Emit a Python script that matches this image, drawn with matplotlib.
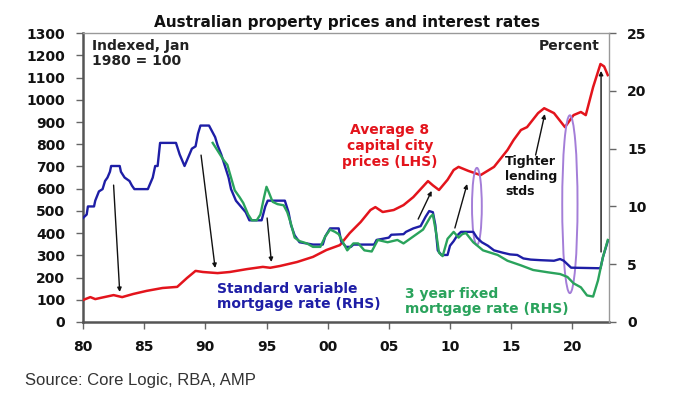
import matplotlib
matplotlib.use("Agg")
import matplotlib.pyplot as plt
from matplotlib.patches import Ellipse

# ---------------- data ----------------
price_years = [1980.0, 1980.6, 1981.0, 1981.4, 1982.5, 1983.2, 1984.1, 1985.2, 1986.5, 1987.7,
               1988.5, 1989.2, 1989.8, 1991.0, 1992.0, 1993.4, 1994.7, 1995.3, 1996.1, 1997.5,
               1998.8, 1999.9, 2001.0, 2001.8, 2002.7, 2003.5, 2003.9, 2004.5, 2005.4, 2006.2,
               2007.0, 2007.8, 2008.2, 2008.6, 2009.1, 2009.8, 2010.3, 2010.7, 2011.5, 2012.5,
               2013.6, 2014.7, 2015.2, 2015.8, 2016.3, 2017.2, 2017.7, 2018.5, 2019.4, 2020.1,
               2020.7, 2021.1, 2021.7, 2022.3, 2022.6, 2022.9]
price_index = [99, 112, 103, 108, 121, 112, 126, 140, 153, 158,
               198, 230, 225, 220, 225, 238, 248, 244, 252, 270,
               293, 324, 346, 400, 450, 504, 517, 495, 504, 526,
               562, 610, 634, 615, 594, 640, 684, 698, 680, 661,
               698, 774, 819, 864, 877, 940, 962, 940, 877, 931,
               945, 931, 1057, 1161, 1150, 1111]

svr_years = [1980.0, 1980.3, 1980.4, 1980.9, 1981.0, 1981.3, 1981.6, 1981.8, 1982.0, 1982.2,
             1982.3, 1983.0, 1983.1, 1983.4, 1983.8, 1984.0, 1984.2, 1985.3, 1985.5, 1985.7,
             1985.9, 1986.1, 1986.3, 1987.6, 1987.9, 1988.1, 1988.3, 1988.5, 1988.7, 1988.9,
             1989.2, 1989.4, 1989.6, 1990.3, 1990.5, 1990.8, 1991.0, 1991.3, 1991.6, 1991.9,
             1992.1, 1992.5, 1992.9, 1993.3, 1993.6, 1994.6, 1994.9, 1995.1, 1996.5, 1996.8,
             1997.0, 1997.3, 1997.7, 1998.8, 1999.6, 1999.8, 2000.2, 2000.9, 2001.1, 2001.5,
             2001.9, 2002.1, 2003.8, 2004.0, 2005.0, 2005.2, 2006.2, 2006.4, 2007.0, 2007.6,
             2008.0, 2008.3, 2008.6, 2008.8, 2009.0, 2009.3, 2009.8, 2010.0, 2010.3, 2010.6,
             2010.9, 2011.9, 2012.2, 2012.6, 2013.1, 2013.6, 2014.3, 2014.9, 2015.5, 2016.0,
             2016.6, 2017.4, 2018.5, 2019.0, 2019.3, 2019.6, 2019.9, 2022.3, 2022.5, 2022.7,
             2022.9]
svr_rate = [9.0, 9.3, 10.0, 10.0, 10.5, 11.3, 11.5, 12.2, 12.5, 13.0,
            13.5, 13.5, 13.0, 12.5, 12.2, 11.8, 11.5, 11.5, 12.0, 12.5,
            13.5, 13.5, 15.5, 15.5, 14.5, 14.0, 13.5, 14.0, 14.5, 15.0,
            15.2, 16.3, 17.0, 17.0, 16.6, 16.0, 15.3, 14.5, 13.5, 12.5,
            11.5, 10.5, 10.0, 9.5, 8.8, 8.8, 10.0, 10.5, 10.5, 9.5,
            8.4, 7.5, 6.9, 6.7, 6.7, 7.4, 8.1, 8.1, 7.0, 6.5,
            6.5, 6.7, 6.7, 7.1, 7.3, 7.55, 7.6, 7.8, 8.1, 8.3,
            9.1, 9.6, 9.5, 8.4, 6.2, 5.8, 5.8, 6.6, 7.0, 7.5,
            7.8, 7.8, 7.3, 6.9, 6.6, 6.2, 6.0, 5.85, 5.8, 5.5,
            5.4, 5.35, 5.3, 5.45, 5.3, 5.0, 4.7, 4.65, 5.6, 6.3,
            7.0]

fixed_years = [1990.6, 1990.9, 1991.2, 1991.5, 1991.8, 1992.1, 1992.4, 1992.8, 1993.1, 1993.5,
               1993.8, 1994.2, 1994.5, 1994.8, 1995.0, 1995.2, 1995.5, 1995.9, 1996.4, 1996.7,
               1997.0, 1997.3, 1997.7, 1998.3, 1998.8, 1999.4, 1999.8, 2000.2, 2000.6, 2000.9,
               2001.2, 2001.6, 2002.1, 2002.5, 2003.0, 2003.6, 2004.1, 2004.9, 2005.7, 2006.2,
               2007.0, 2007.8, 2008.4, 2008.6, 2008.9, 2009.1, 2009.4, 2009.8, 2010.3, 2010.7,
               2011.0, 2011.3, 2011.9, 2012.7, 2013.9, 2014.7, 2015.8, 2016.8, 2018.0, 2019.0,
               2019.6, 2020.1, 2020.7, 2021.2, 2021.7, 2022.1, 2022.5, 2022.9]
fixed_rate = [15.5, 15.0, 14.5, 14.0, 13.6, 12.5, 11.4, 10.8, 10.3, 9.3,
              8.8, 8.8, 9.3, 10.8, 11.7, 11.2, 10.4, 10.2, 10.1, 9.5,
              8.5, 7.3, 7.0, 6.8, 6.5, 6.5, 7.4, 8.0, 7.8, 7.6,
              7.0, 6.2, 6.8, 6.8, 6.2, 6.1, 7.1, 6.9, 7.1, 6.8,
              7.4, 8.0, 9.1, 9.3, 7.5, 6.0, 5.7, 7.2, 7.8, 7.3,
              7.6, 7.7, 6.9, 6.2, 5.8, 5.3, 4.9, 4.5, 4.3, 4.15,
              3.9, 3.35, 3.0, 2.3, 2.2, 3.6, 5.6, 7.1]

x_ticks = [1980, 1985, 1990, 1995, 2000, 2005, 2010, 2015, 2020]
x_tick_labels = ["80", "85", "90", "95", "00", "05", "10", "15", "20"]
left_ticks = list(range(0, 1301, 100))
right_ticks = [0, 5, 10, 15, 20, 25]

# ---------------- styling ----------------
RED = "#e3141c"
BLUE = "#1e1ea6"
GREEN = "#2aa35c"
PURPLE = "#a47ed8"
BOLD = "DejaVu Sans"

fig = plt.figure(figsize=(6.81, 3.99), dpi=100)
ax = fig.add_axes([0.1219, 0.193, 0.7724, 0.724])
ax2 = ax.twinx()

ax.plot(price_years, price_index, color=RED, lw=1.8, zorder=3)
ax2.plot(svr_years, svr_rate, color=BLUE, lw=1.7, zorder=2)
ax2.plot(fixed_years, fixed_rate, color=GREEN, lw=1.7, zorder=3)

ax.set_xlim(1980, 2023)
ax.set_ylim(0, 1300)
ax2.set_ylim(0, 25)
ax.set_xticks(x_ticks)
ax.set_xticklabels(x_tick_labels)
ax.set_yticks(left_ticks)
ax2.set_yticks(right_ticks)

for a in (ax, ax2):
    a.tick_params(labelsize=10, length=5, width=1, color="#666666", pad=8)
    for lab in a.get_xticklabels() + a.get_yticklabels():
        lab.set_fontweight("bold")
        lab.set_family(BOLD)
        lab.set_color("#111111")

for s in ("left", "bottom"):
    ax.spines[s].set_color("#555555")
    ax.spines[s].set_linewidth(1.8)
    ax2.spines[s].set_visible(False)
for s in ("top", "right"):
    ax.spines[s].set_visible(False)
    ax2.spines[s].set_color("#999999")
    ax2.spines[s].set_linewidth(1.0)
ax2.spines["left"].set_visible(False)
ax2.spines["bottom"].set_visible(False)

# ellipses
ax.add_patch(Ellipse((2012.2, 520), 0.8, 347, fill=False, ec=PURPLE, lw=1.4, zorder=4))
ax.add_patch(Ellipse((2019.8, 530), 1.25, 800, fill=False, ec=PURPLE, lw=1.4, zorder=4))

# arrows
arrow_kw = dict(arrowstyle="-|>", lw=1.0, color="#111111", mutation_scale=6, shrinkA=0, shrinkB=0)
arrows = [((1982.5, 616), (1983.0, 135)),
          ((1989.65, 751), (1990.8, 243)),
          ((1995.05, 468), (1995.4, 270)),
          ((2007.4, 463), (2008.5, 590)),
          ((2010.4, 423), (2011.4, 621)),
          ((2017.0, 751), (2017.75, 936)),
          ((2022.35, 315), (2022.35, 1130))]
for start, end in arrows:
    ax.annotate("", xy=end, xytext=start, arrowprops=arrow_kw, zorder=5)

# texts
fig.text(347 / 681, 1 - 22 / 399, "Australian property prices and interest rates", ha="center", va="center",
         fontsize=11, fontweight="bold", family=BOLD, color="#111111")
fig.text(92 / 681, 1 - 53.5 / 399, "Indexed, Jan\n1980 = 100", ha="left", va="center",
         fontsize=10, fontweight="bold", family=BOLD, color="#222222", linespacing=1.15)
fig.text(600 / 681, 1 - 46 / 399, "Percent", ha="right", va="center",
         fontsize=10, fontweight="bold", family=BOLD, color="#222222")
fig.text(390 / 681, 1 - 146 / 399, "Average 8\ncapital city\nprices (LHS)", ha="center", va="center",
         fontsize=10, fontweight="bold", family=BOLD, color=RED, linespacing=1.15)
fig.text(505 / 681, 1 - 177 / 399, "Tighter\nlending\nstds", ha="left", va="center",
         fontsize=9, fontweight="bold", family=BOLD, color="#111111", linespacing=1.2)
fig.text(217 / 681, 1 - 296.5 / 399, "Standard variable\nmortgage rate (RHS)", ha="left", va="center",
         fontsize=10, fontweight="bold", family=BOLD, color=BLUE, linespacing=1.15)
fig.text(405 / 681, 1 - 301.5 / 399, "3 year fixed\nmortgage rate (RHS)", ha="left", va="center",
         fontsize=10, fontweight="bold", family=BOLD, color=GREEN, linespacing=1.15)
fig.text(25 / 681, 1 - 380 / 399, "Source: Core Logic, RBA, AMP", ha="left", va="center",
         fontsize=12, family="Liberation Sans", color="#333333")

fig.savefig("out.png", dpi=100)
